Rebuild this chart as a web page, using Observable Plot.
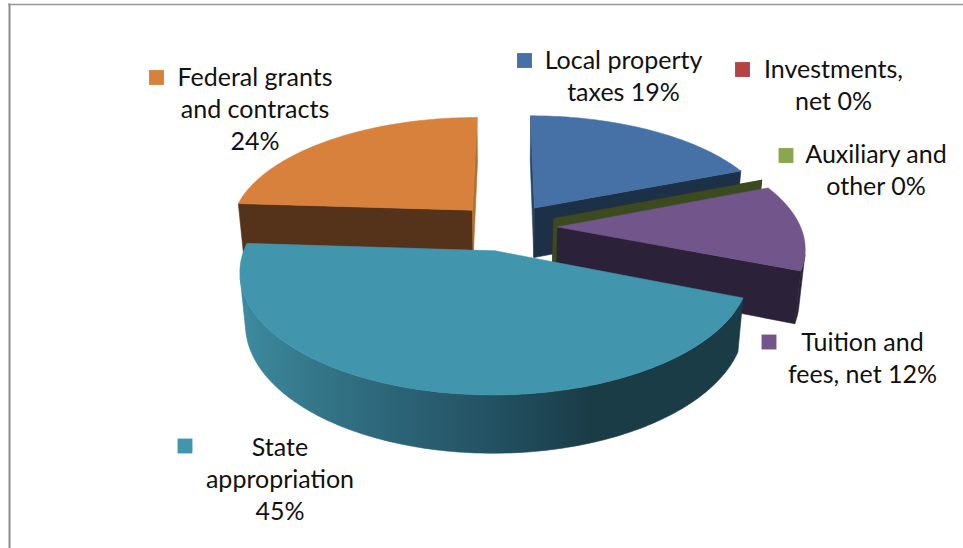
<!DOCTYPE html>
<html>
<head>
<meta charset="utf-8">
<style>
  html, body { margin: 0; padding: 0; background: #fff; }
  svg { display: block; }
</style>
<script src="https://cdn.jsdelivr.net/npm/d3@7"></script>
<script src="https://cdn.jsdelivr.net/npm/@observablehq/plot@0.6"></script>
</head>
<body>
<div id="chart"></div>
<script>
// Revenue sources, clockwise from twelve o'clock.
const sources = ["Local property\ntaxes", "Investments,\nnet", "Auxiliary and\nother", "Tuition and\nfees, net", "State\nappropriation", "Federal grants\nand contracts"];
const percents = [19, 0, 0, 12, 45, 24];
const percentSeparators = [" ", " ", " ", " ", "\n", "\n"];

// Colours per source.
const faceColors = ["#4571a7", "#b24543", "#8ba64b", "#71558b", "#4195ad", "#d8813c"];
const cutColors = ["#1c3048", "#4a1c1b", "#3c4a1f", "#2b2138", "#1a3c47", "#55321a"];
const startEdgeColors = ["#2a4565", "#4a1c1b", "#3c4a1f", "#2b2138", "#1a3c47", "#55321a"];
const endEdgeColors = ["#1c3048", "#4a1c1b", "#3c4a1f", "#2b2138", "#1a3c47", "#b3702f"];

// Perspective view of the pie: unit disc in (u, v), extruded along h.
const view = {cx: 506, cy: 226.5, a: 243, b: 112.5, depth: 51.6, perspective: 0.16, sink: 0.02, explode: 0.21};
const project = (u, v, h) => {
  const w = 1 + view.perspective * v + view.sink * h;
  return [view.cx + (view.a * u) / w, view.cy + (-view.b * v + view.depth * h) / w];
};

// The front wall of the largest slice darkens from left to right.
const stateWallGradient = {
  id: "state-wall",
  from: 245,
  to: 745,
  stops: [[0, "#3d8a9e"], [0.11, "#367a8d"], [0.31, "#2b6376"], [0.51, "#225060"], [0.69, "#1a3c47"], [1, "#1a3c47"]]
};
const wallDefs = () => {
  const defs = d3.create("svg:defs");
  const gradient = defs.append("linearGradient")
    .attr("id", stateWallGradient.id)
    .attr("gradientUnits", "userSpaceOnUse")
    .attr("x1", stateWallGradient.from).attr("x2", stateWallGradient.to)
    .attr("y1", 0).attr("y2", 0);
  for (const [offset, color] of stateWallGradient.stops) {
    gradient.append("stop").attr("offset", offset).attr("stop-color", color);
  }
  return defs.node();
};

const shoelace = (pts) => d3.sum(pts, (p, i) => {
  const q = pts[(i + 1) % pts.length];
  return p[0] * q[1] - q[0] * p[1];
});

// Every drawn face is a closed polygon; slices are painted back to front.
const polygons = [];
const addFace = (pts, color) => {
  const id = polygons.length ? polygons[polygons.length - 1].id + 1 : 0;
  for (const [x, y] of [...pts, pts[0]]) polygons.push({id, x, y, color});
};
const addWall = (pts, color) => { if (shoelace(pts) < 0) addFace(pts, color); };

const total = d3.sum(percents);
let cumulative = 0;
const slices = percents.map((value, i) => {
  const start = (cumulative / total) * 2 * Math.PI;
  cumulative += value;
  return {i, value, start, end: (cumulative / total) * 2 * Math.PI};
});
const paintOrder = [5, 0, 1, 2, 3, 4];

for (const i of paintOrder) {
  const {value, start, end} = slices[i];
  const mid = (start + end) / 2;
  const ou = view.explode * Math.sin(mid);
  const ov = view.explode * Math.cos(mid);
  const rim = (t, h) => project(ou + Math.sin(t), ov + Math.cos(t), h);
  const apex = (h) => project(ou, ov, h);

  addWall([apex(0), rim(start, 0), rim(start, 1), apex(1)], startEdgeColors[i]);
  addWall([rim(end, 0), apex(0), apex(1), rim(end, 1)], endEdgeColors[i]);

  if (value > 0) {
    const steps = d3.range(0, Math.ceil((end - start) / 0.02) + 1)
      .map((k, _, all) => start + ((end - start) * k) / (all.length - 1));
    // The curved wall: only the run of the rim that faces the viewer.
    const facing = d3.pairs(steps).filter(([t0, t1]) =>
      shoelace([rim(t0, 0), rim(t1, 0), rim(t1, 1), rim(t0, 1)]) < 0);
    if (facing.length) {
      const run = [facing[0][0], ...facing.map((pair) => pair[1])];
      const wall = [...run.map((t) => rim(t, 0)), ...run.slice().reverse().map((t) => rim(t, 1))];
      addFace(wall, i === 4 ? `url(#${stateWallGradient.id})` : cutColors[i]);
    }
    addFace([apex(0), ...steps.map((t) => rim(t, 0))], faceColors[i]);
  }
}

// Legend keys and data labels beside each slice.
const keyPlace = [[524, 60], [742, 69], [785.5, 155], [768.5, 341.5], [184.5, 445.5], [156, 77]];
const labelPlace = [[623, 74], [833, 83.5], [875.5, 168.5], [862, 356.5], [279.5, 477], [254.5, 107]];
const labels = sources.map((name, i) => ({
  text: `${name}${percentSeparators[i]}${percents[i]}%`,
  color: faceColors[i],
  keyX: keyPlace[i][0],
  keyY: keyPlace[i][1],
  labelX: labelPlace[i][0],
  labelY: labelPlace[i][1]
}));

const chart = Plot.plot({
  width: 963,
  height: 548,
  margin: 0,
  x: {domain: [0, 963], range: [0, 963], axis: null},
  y: {domain: [0, 548], range: [0, 548], axis: null},
  color: {type: "identity"},
  style: {background: "#fff"},
  marks: [
    wallDefs,
    Plot.ruleX([9], {y1: 3.5, y2: 548, stroke: "#8a8a8a", strokeWidth: 2}),
    Plot.ruleY([4], {x1: 8, x2: 963, stroke: "#969696", strokeWidth: 1.5}),
    Plot.line(polygons, {x: "x", y: "y", z: "id", fill: "color", stroke: "color", strokeWidth: 0.6, curve: "linear"}),
    Plot.dot(labels, {x: "keyX", y: "keyY", symbol: "square", r: 8.4, fill: "color", stroke: "none"}),
    Plot.text(labels, {
      x: "labelX",
      y: "labelY",
      text: "text",
      textAnchor: "middle",
      lineAnchor: "middle",
      lineHeight: 1.29,
      fontFamily: "Lato, 'Open Sans', sans-serif",
      fontSize: 25,
      fill: "#111"
    })
  ]
});
document.getElementById("chart").append(chart);
</script>
</body>
</html>
